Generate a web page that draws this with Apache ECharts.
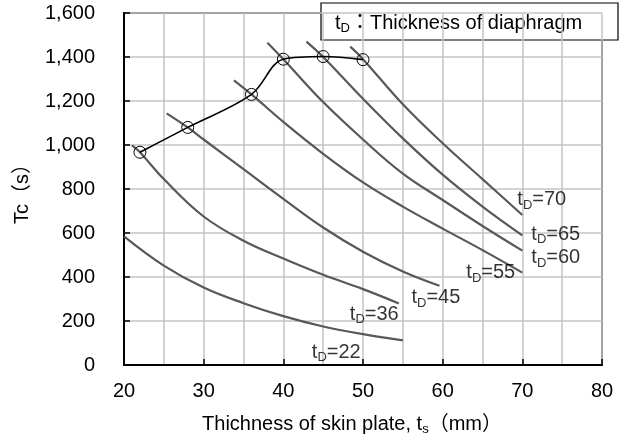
<!DOCTYPE html>
<html>
<head>
<meta charset="utf-8">
<script src="https://cdn.jsdelivr.net/npm/echarts@6/dist/echarts.min.js"></script>
<style>
html, body { margin: 0; padding: 0; background: #fff; }
#main { width: 622px; height: 441px; }
</style>
</head>
<body>
<div id="main"></div>
<script>
// skin plate thickness ts (mm) -> Tc (s), one curve per diaphragm thickness tD
var tD22 = [[20, 585], [25, 452], [30, 352], [35, 281], [40, 222], [45, 175], [50, 140], [55, 112]];
var tD36 = [[21, 998], [22, 967], [25, 845], [30, 675], [35, 565], [40, 484], [45, 410], [50, 345], [54.5, 280]];
var tD45 = [[25.35, 1144], [28, 1080], [30, 1025], [35, 890], [40, 755], [45, 625], [50, 515], [55, 425], [59.6, 360]];
var tD55 = [[33.8, 1294], [36, 1230], [40, 1105], [45, 960], [50, 830], [55, 720], [60, 620], [65, 522], [70, 420]];
var tD60 = [[38, 1465], [40, 1390], [45, 1195], [50, 1025], [55, 870], [60, 750], [65, 632], [70, 520]];
var tD65 = [[42.9, 1470], [45, 1400], [50, 1210], [55, 1030], [60, 865], [65, 720], [70, 589]];
var tD70 = [[48.4, 1447], [50, 1390], [55, 1185], [60, 1008], [65, 845], [70, 682]];
// circled points joined by the black line
var optimum = [[22, 967], [28, 1080], [36, 1230], [40, 1390], [45, 1402], [50, 1388]];

var tdNames = ['22', '36', '45', '55', '60', '65', '70'];
var curves = [tD22, tD36, tD45, tD55, tD60, tD65, tD70];
// label offset from the end of each curve (left edge, middle)
var labelOffsets = [[-91, 12], [-49, 11], [-28, 12], [-56, 0], [9, 7], [9, -1], [-5, -15]];

var font = "'Liberation Sans', 'Noto Sans CJK JP', sans-serif";
var rich = {
    b: { fontSize: 20, fontFamily: font, color: '#000' },
    s: { fontSize: 13, fontFamily: font, color: '#000', padding: [11, 0, 0, 0] }
};

var series = [];
curves.forEach(function (c, i) {
    series.push({
        name: 'tD=' + tdNames[i],
        type: 'line',
        data: c,
        smooth: 0.4,
        symbol: 'none',
        lineStyle: { color: '#585858', width: 2.2 },
        z: 2
    });
});
series.push({
    name: 'optimum',
    type: 'line',
    data: optimum,
    smooth: 0.35,
    symbol: 'circle',
    symbolSize: 12,
    itemStyle: { color: 'rgba(0,0,0,0)', borderColor: '#000', borderWidth: 1 },
    lineStyle: { color: '#000', width: 1.6 },
    z: 3
});
series.push({
    name: 'labels',
    type: 'scatter',
    symbolSize: 0,
    silent: true,
    data: curves.map(function (c, i) {
        return {
            value: c[c.length - 1],
            label: {
                show: true,
                position: 'inside',
                align: 'left',
                verticalAlign: 'middle',
                offset: labelOffsets[i],
                formatter: '{b|t}{s|D}{b|=' + tdNames[i] + '}',
                rich: rich
            }
        };
    }),
    z: 4
});

var chart = echarts.init(document.getElementById('main'));
chart.setOption({
    animation: false,
    grid: {
        left: 124, right: 20, top: 13, bottom: 73,
        show: true, borderColor: '#000', borderWidth: 1.5
    },
    xAxis: {
        type: 'value',
        min: 20, max: 80, interval: 10,
        name: '{b|Thichness of skin plate, t}{s|s}{b|（mm）}',
        nameLocation: 'middle',
        nameGap: 47,
        nameTextStyle: { rich: rich, padding: [0, 22, 0, 0] },
        axisLine: { lineStyle: { color: '#000', width: 2 } },
        axisTick: { inside: true, length: 6, lineStyle: { color: '#000', width: 1.5 } },
        axisLabel: { color: '#000', fontSize: 20, fontFamily: font, margin: 16 },
        splitLine: { lineStyle: { color: '#c4c4c4', width: 1.5 } },
        minorTick: { show: false, splitNumber: 2 },
        minorSplitLine: { show: true, lineStyle: { color: '#c4c4c4', width: 1.5 } }
    },
    yAxis: {
        type: 'value',
        min: 0, max: 1600, interval: 200,
        name: 'Tc（s）',
        nameLocation: 'middle',
        nameRotate: 90,
        nameGap: 92,
        nameTextStyle: { color: '#000', fontSize: 20, fontFamily: font },
        axisLine: { show: true, lineStyle: { color: '#000', width: 2 } },
        axisTick: { show: true, inside: true, length: 6, lineStyle: { color: '#000', width: 1.5 } },
        axisLabel: {
            color: '#000', fontSize: 20, fontFamily: font, margin: 29,
            formatter: function (v) { return v.toLocaleString('en-US'); }
        },
        splitLine: { lineStyle: { color: '#c4c4c4', width: 1.5 } }
    },
    graphic: [{
        type: 'group',
        z: 100,
        children: [{
            type: 'rect',
            shape: { x: 321, y: 3, width: 297, height: 37 },
            style: { fill: '#fff', stroke: '#000', lineWidth: 1.2 }
        }, {
            type: 'text',
            x: 335, y: 23,
            style: {
                text: '{b|t}{s|D}{b|：Thickness of diaphragm}',
                verticalAlign: 'middle',
                rich: rich
            }
        }]
    }],
    series: series
});
</script>
</body>
</html>
